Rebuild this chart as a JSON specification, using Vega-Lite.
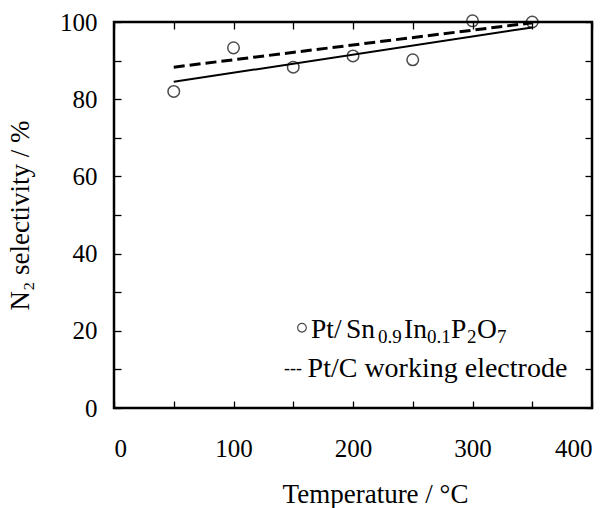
{
  "$schema": "https://vega.github.io/schema/vega-lite/v6.json",
  "width": 478,
  "height": 386,
  "autosize": {"type": "none"},
  "padding": {"left": 114, "top": 22, "right": 22, "bottom": 100},
  "background": "white",
  "config": {
    "view": {"stroke": "black", "strokeWidth": 2.5},
    "font": "Liberation Serif",
    "text": {"font": "Liberation Serif", "color": "black"},
    "axis": {
      "grid": false,
      "domain": false,
      "tickColor": "black",
      "tickWidth": 1.3,
      "tickSize": -7,
      "labelFont": "Liberation Serif",
      "labelFontSize": 25,
      "labelColor": "black",
      "titleFont": "Liberation Serif",
      "titleFontSize": 27,
      "titleFontWeight": "normal",
      "titleColor": "black"
    }
  },
  "resolve": {"axis": {"x": "independent", "y": "independent"}},
  "layer": [
    {
      "data": {"values": [
        {"temperature": 50, "selectivity": 82.0},
        {"temperature": 100, "selectivity": 93.3},
        {"temperature": 150, "selectivity": 88.3},
        {"temperature": 200, "selectivity": 91.2},
        {"temperature": 250, "selectivity": 90.2},
        {"temperature": 300, "selectivity": 100.3},
        {"temperature": 350, "selectivity": 100.0}
      ]},
      "mark": {"type": "point", "shape": "circle", "filled": false, "size": 133, "stroke": "black", "strokeWidth": 1.5, "clip": false},
      "encoding": {
        "x": {"field": "temperature", "type": "quantitative",
          "scale": {"domain": [0, 400], "nice": false},
          "axis": {"orient": "bottom", "values": [0, 50, 100, 150, 200, 250, 300, 350, 400],
            "labelExpr": "datum.value % 100 === 0 ? datum.label : ''",
            "labelPadding": 35, "title": "Temperature / °C", "titlePadding": 20,
            "titleX": 261, "titleAnchor": "middle"}},
        "y": {"field": "selectivity", "type": "quantitative",
          "scale": {"domain": [0, 100], "nice": false},
          "axis": {"orient": "left", "values": [0, 10, 20, 30, 40, 50, 60, 70, 80, 90, 100],
            "labelExpr": "datum.value % 20 === 0 ? datum.label : ''",
            "labelPadding": 24, "title": "N₂ selectivity / %", "titlePadding": 25}}
      }
    },
    {
      "data": {"values": [
        {"temperature": 50, "selectivity": 84.5},
        {"temperature": 350, "selectivity": 98.6}
      ]},
      "mark": {"type": "line", "color": "black", "strokeWidth": 2},
      "encoding": {
        "x": {"field": "temperature", "type": "quantitative", "axis": {"orient": "top", "values": [0, 50, 100, 150, 200, 250, 300, 350, 400], "labels": false, "title": null}},
        "y": {"field": "selectivity", "type": "quantitative", "axis": {"orient": "right", "values": [0, 10, 20, 30, 40, 50, 60, 70, 80, 90, 100], "labels": false, "title": null}}
      }
    },
    {
      "data": {"values": [
        {"temperature": 50, "selectivity": 88.3},
        {"temperature": 350, "selectivity": 99.8}
      ]},
      "mark": {"type": "line", "color": "black", "strokeWidth": 3, "strokeDash": [11, 5]},
      "encoding": {
        "x": {"field": "temperature", "type": "quantitative", "axis": null},
        "y": {"field": "selectivity", "type": "quantitative", "axis": null}
      }
    },
    {
      "data": {"values": [{}]},
      "mark": {"type": "point", "shape": "circle", "filled": false, "size": 75, "stroke": "black", "strokeWidth": 1.2},
      "encoding": {
        "x": {"datum": 157.3, "type": "quantitative", "axis": null},
        "y": {"datum": 20.8, "type": "quantitative", "axis": null}
      }
    },
    {
      "data": {"values": [{}]},
      "mark": {"type": "text", "text": "Pt/", "fontSize": 27.5, "align": "left", "baseline": "alphabetic"},
      "encoding": {"x": {"datum": 164.9, "type": "quantitative", "axis": null}, "y": {"datum": 18.1, "type": "quantitative", "axis": null}}
    },
    {
      "data": {"values": [{}]},
      "mark": {"type": "text", "text": "Sn", "fontSize": 27.5, "align": "left", "baseline": "alphabetic"},
      "encoding": {"x": {"datum": 194.1, "type": "quantitative", "axis": null}, "y": {"datum": 18.1, "type": "quantitative", "axis": null}}
    },
    {
      "data": {"values": [{}]},
      "mark": {"type": "text", "text": "0.9", "fontSize": 19, "dy": 5, "align": "left", "baseline": "alphabetic"},
      "encoding": {"x": {"datum": 220.9, "type": "quantitative", "axis": null}, "y": {"datum": 18.1, "type": "quantitative", "axis": null}}
    },
    {
      "data": {"values": [{}]},
      "mark": {"type": "text", "text": "In", "fontSize": 27.5, "align": "left", "baseline": "alphabetic"},
      "encoding": {"x": {"datum": 242.7, "type": "quantitative", "axis": null}, "y": {"datum": 18.1, "type": "quantitative", "axis": null}}
    },
    {
      "data": {"values": [{}]},
      "mark": {"type": "text", "text": "0.1", "fontSize": 19, "dy": 5, "align": "left", "baseline": "alphabetic"},
      "encoding": {"x": {"datum": 261.9, "type": "quantitative", "axis": null}, "y": {"datum": 18.1, "type": "quantitative", "axis": null}}
    },
    {
      "data": {"values": [{}]},
      "mark": {"type": "text", "text": "P", "fontSize": 27.5, "align": "left", "baseline": "alphabetic"},
      "encoding": {"x": {"datum": 282.0, "type": "quantitative", "axis": null}, "y": {"datum": 18.1, "type": "quantitative", "axis": null}}
    },
    {
      "data": {"values": [{}]},
      "mark": {"type": "text", "text": "2", "fontSize": 19, "dy": 5, "align": "left", "baseline": "alphabetic"},
      "encoding": {"x": {"datum": 295.4, "type": "quantitative", "axis": null}, "y": {"datum": 18.1, "type": "quantitative", "axis": null}}
    },
    {
      "data": {"values": [{}]},
      "mark": {"type": "text", "text": "O", "fontSize": 27.5, "align": "left", "baseline": "alphabetic"},
      "encoding": {"x": {"datum": 303.8, "type": "quantitative", "axis": null}, "y": {"datum": 18.1, "type": "quantitative", "axis": null}}
    },
    {
      "data": {"values": [{}]},
      "mark": {"type": "text", "text": "7", "fontSize": 19, "dy": 5, "align": "left", "baseline": "alphabetic"},
      "encoding": {"x": {"datum": 320.5, "type": "quantitative", "axis": null}, "y": {"datum": 18.1, "type": "quantitative", "axis": null}}
    },
    {
      "data": {"values": [{}]},
      "mark": {"type": "text", "text": "---", "fontSize": 18, "dy": -3.5, "align": "left", "baseline": "alphabetic"},
      "encoding": {"x": {"datum": 142.3, "type": "quantitative", "axis": null}, "y": {"datum": 8.0, "type": "quantitative", "axis": null}}
    },
    {
      "data": {"values": [{}]},
      "mark": {"type": "text", "text": "Pt/C working electrode", "fontSize": 28, "align": "left", "baseline": "alphabetic"},
      "encoding": {"x": {"datum": 162.0, "type": "quantitative", "axis": null}, "y": {"datum": 8.0, "type": "quantitative", "axis": null}}
    }
  ]
}
